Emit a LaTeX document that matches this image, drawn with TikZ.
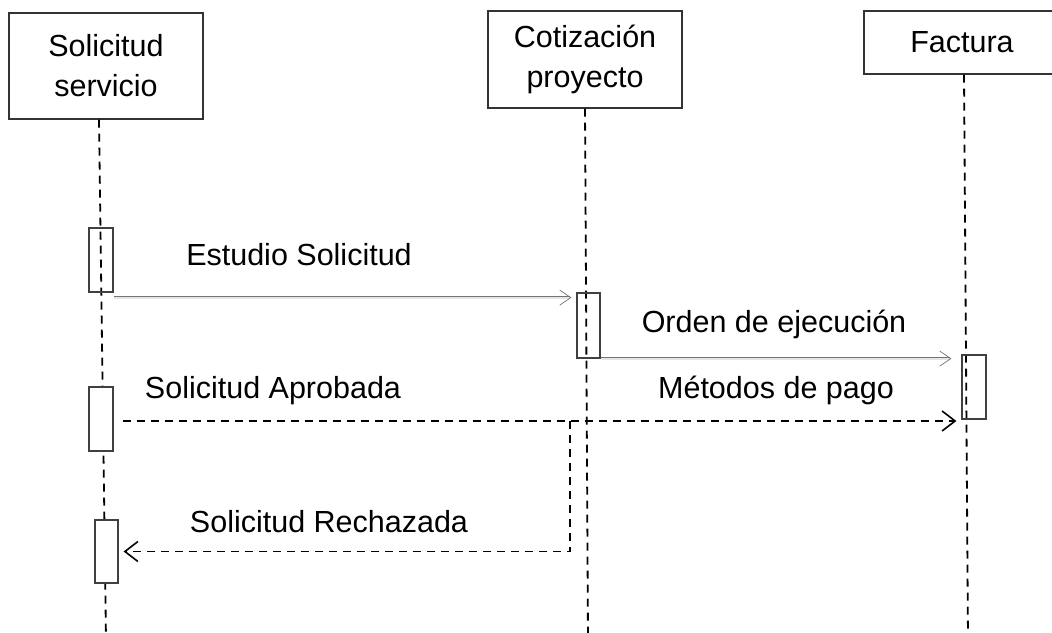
\documentclass[tikz,border=0pt]{standalone}
\usepackage{fontspec}
\setmainfont{Liberation Sans}
\usetikzlibrary{arrows.meta}

\tikzset{
  objbox/.style={shape=rectangle, draw=black!80, line width=1.2pt, align=center, inner sep=0pt,
    font=\fontsize{30.5}{40}\selectfont},
  actbox/.style={shape=rectangle, draw=black!75, line width=1.2pt, inner sep=0pt, minimum width=24pt},
  lifeline/.style={line width=1.8pt, dash pattern=on 8pt off 6pt},
  msglabel/.style={anchor=base, inner sep=0pt, font=\fontsize{30.5}{36}\selectfont},
  callmsg/.style={draw=black!55, double=black!10, double distance=1.8pt, line width=0.7pt,
    -{Straight Barb[length=11pt,width=15pt]}},
  retmsg/.style={line width=1.8pt, dash pattern=on 8pt off 6pt,
    -{Straight Barb[length=13pt,width=20pt,line width=1.6pt]}}
}

\begin{document}
\begin{tikzpicture}[x=1pt,y=-1pt]
\useasboundingbox (0,0) rectangle (1052,632);

\node[objbox, minimum width=194pt, minimum height=106pt] (hsol) at (106,66) {Solicitud\\servicio};
\node[objbox, minimum width=194pt, minimum height=97pt] (hcot) at (585,59.5) {Cotización\\proyecto};
\node[objbox, minimum width=196pt, minimum height=63pt] (hfac) at (962,42.5) {Factura};

\coordinate (esol) at (106,640);
\coordinate (ecot) at (588,640);
\coordinate (efac) at (968,640);

\draw[lifeline] (hsol.south -| 99,0) -- (esol);
\draw[lifeline] (hcot.south) -- (ecot);
\draw[lifeline] (hfac.south -| 964,0) -- (efac);

\node[actbox, minimum height=64pt] (aest) at (101,260) {};
\node[actbox, minimum height=65pt, minimum width=23pt] (acot) at (588.5,325.5) {};
\node[actbox, minimum height=64pt] (afac) at (974,387) {};
\node[actbox, fill=white, minimum height=64pt] (aapr) at (101,419) {};
\node[actbox, fill=white, minimum height=63pt, minimum width=23pt] (arec) at (106.5,551.5) {};

\node[msglabel] (lest) at (299,265) {Estudio Solicitud};
\node[msglabel] (lord) at (774,332) {Orden de ejecución};
\node[msglabel] (lapr) at (273,398) {Solicitud Aprobada};
\node[msglabel] (lmet) at (776,398) {Métodos de pago};
\node[msglabel] (lrec) at (329,532) {Solicitud Rechazada};

\draw[callmsg, shorten >=5pt] ([yshift=-5pt]aest.south east) -- ([yshift=-5pt]aest.south east -| acot.west);
\draw[callmsg, shorten >=10pt] (acot.south east) -- (acot.south east -| afac.west);
\draw[retmsg, shorten <=9pt, shorten >=5pt] ([yshift=-2pt]aapr.east) -- ([yshift=-2pt]aapr.east -| afac.west);

\coordinate (split) at (570,421);
\draw[retmsg, shorten >=5pt] (split) -- (split |- arec.east) -- (arec.east);

\end{tikzpicture}
\end{document}
